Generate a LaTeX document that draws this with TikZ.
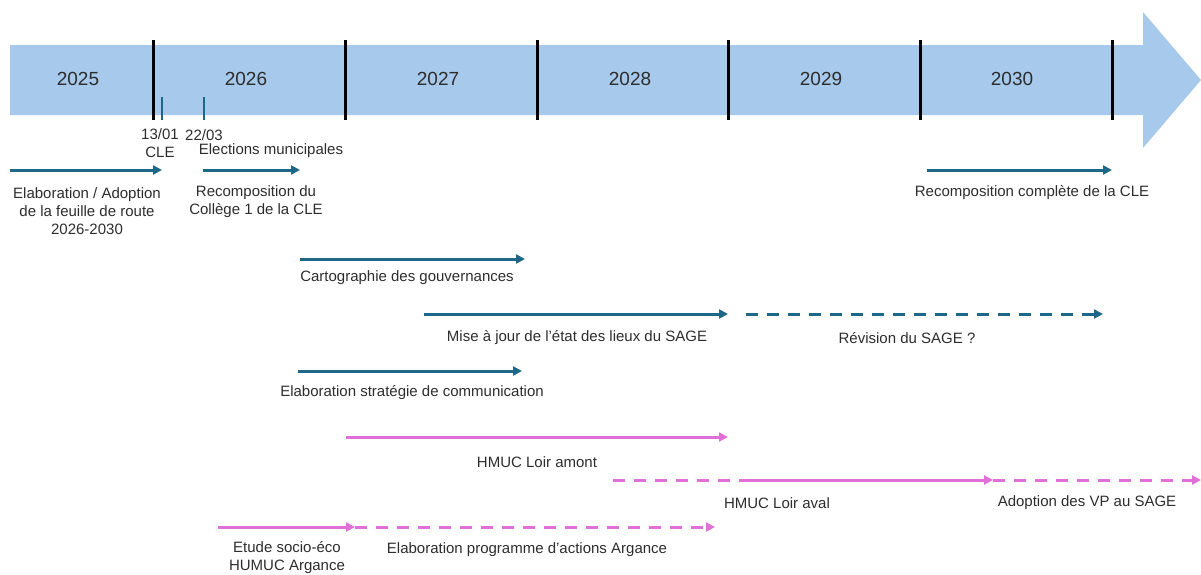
\documentclass[tikz,border=0pt]{standalone}
\usepackage{fontspec}
\setmainfont{Liberation Sans}
\usetikzlibrary{arrows.meta}
\definecolor{bande}{RGB}{167,202,236}
\definecolor{bleu}{RGB}{29,103,137}
\definecolor{rose}{RGB}{224,112,216}
\definecolor{texte}{RGB}{45,45,45}
\tikzset{
  fleche/.style={line width=3pt,-{Triangle[length=9pt,width=9pt]}},
  tiret/.style={line width=3pt,dash pattern=on 12pt off 9pt},
  etiq/.style={text=texte,font=\fontsize{15}{18}\selectfont,align=center,inner sep=0pt},
  annee/.style={text=texte,font=\fontsize{19}{21}\selectfont,inner sep=0pt}
}

\begin{document}
\begin{tikzpicture}[x=1pt,y=-1pt]
  \useasboundingbox (0,0) rectangle (1201,574);
  % bande des annees
  \fill[bande] (10,45) -- (1143,45) -- (1143,12) -- (1201,80) -- (1143,148) -- (1143,115) -- (10,115) -- cycle;
  \foreach \x in {153,345,537,728,920,1112}
    \draw[line width=3pt] (\x,40) -- (\x,120);
  \foreach \a/\x in {2025/78,2026/246,2027/438,2028/630,2029/821,2030/1012}
    \node[annee] (a\a) at (\x,79) {\a};
  % jalons
  \coordinate (cleH) at (162,97);   \coordinate (cleB) at (162,120);
  \coordinate (elecH) at (204,97);  \coordinate (elecB) at (204,120);
  \draw[bleu,line width=2.4pt] (cleH) -- (cleB);
  \draw[bleu,line width=2.4pt] (elecH) -- (elecB);
  \node[etiq] (cle) at (160,143) {13/01\\CLE};
  \node[etiq] (date) at (204,135) {22/03};
  \node[etiq] (elec) at (271,151) {Elections municipales};

  % actions (bleu)
  \coordinate (feuD) at (10,170);   \coordinate (feuF) at (162,170);
  \coordinate (colD) at (203,170);  \coordinate (colF) at (300,170);
  \coordinate (compD) at (927,170); \coordinate (compF) at (1112,170);
  \coordinate (cartD) at (300,259); \coordinate (cartF) at (525,259);
  \coordinate (majD) at (424,314);  \coordinate (majF) at (728,314);
  \coordinate (revD) at (746,314);  \coordinate (revF) at (1103,314);
  \coordinate (comD) at (298,371);  \coordinate (comF) at (522,371);
  \draw[fleche,bleu] (feuD) -- (feuF);
  \draw[fleche,bleu] (colD) -- (colF);
  \draw[fleche,bleu] (compD) -- (compF);
  \draw[fleche,bleu] (cartD) -- (cartF);
  \draw[fleche,bleu] (majD) -- (majF);
  \draw[fleche,tiret,bleu] (revD) -- (revF);
  \draw[fleche,bleu] (comD) -- (comF);
  \node[etiq] (feuille) at (87,211) {Elaboration / Adoption\\de la feuille de route\\2026-2030};
  \node[etiq] (college) at (256,202) {Recomposition du\\Collège 1 de la CLE};
  \node[etiq] (complete) at (1032,193) {Recomposition complète de la CLE};
  \node[etiq] (carto) at (407,278) {Cartographie des gouvernances};
  \node[etiq] (maj) at (577,338) {Mise à jour de l’état des lieux du SAGE};
  \node[etiq] (revision) at (907,338) {Révision du SAGE ?};
  \node[etiq] (strat) at (412,393) {Elaboration stratégie de communication};

  % actions (rose)
  \coordinate (amD) at (346,437);   \coordinate (amF) at (728,437);
  \coordinate (avA) at (613,480);   \coordinate (avD) at (745,480);
  \coordinate (avF) at (993,480);   \coordinate (vpF) at (1201,480);
  \coordinate (argD) at (218,527);  \coordinate (argM) at (355,527);
  \coordinate (argF) at (715,527);
  \draw[fleche,rose] (amD) -- (amF);
  \draw[tiret,rose] (avA) -- (avD);
  \draw[fleche,rose] (avD) -- (avF);
  \draw[fleche,tiret,rose] (avF) -- (vpF);
  \draw[fleche,rose] (argD) -- (argM);
  \draw[fleche,tiret,rose] (argM) -- (argF);
  \node[etiq] (amont) at (537,462) {HMUC Loir amont};
  \node[etiq] (aval) at (777,503) {HMUC Loir aval};
  \node[etiq] (vp) at (1087,503) {Adoption des VP au SAGE};
  \node[etiq] (etude) at (287,558) {Etude socio-éco\\HUMUC Argance};
  \node[etiq] (prog) at (527,550) {Elaboration programme d’actions Argance};
\end{tikzpicture}
\end{document}
